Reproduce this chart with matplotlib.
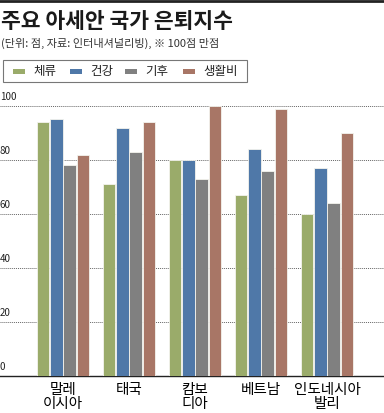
import matplotlib
matplotlib.use("Agg")
import matplotlib.pyplot as plt
from matplotlib.patches import Rectangle
from matplotlib.lines import Line2D
import numpy as np

plt.rcParams['font.family'] = ['Noto Sans CJK KR', 'DejaVu Sans']

countries = ['말레\n이시아', '태국', '캄보\n디아', '베트남', '인도네시아\n발리']
series = ['체류', '건강', '기후', '생활비']
stay = [94, 71, 80, 67, 60]
health = [95, 92, 80, 84, 77]
climate = [78, 83, 73, 76, 64]
living = [82, 94, 100, 99, 90]
colors = ['#9aab6a', '#4f78a8', '#808080', '#a87666']
yticks = [0, 20, 40, 60, 80, 100]

fig = plt.figure(figsize=(3.84, 4.13), dpi=100)
ax = fig.add_axes([0, 37 / 413, 1, 270 / 413])

x = np.arange(len(countries))
offsets = [-0.30, -0.10, 0.10, 0.30]
for vals, off, c in zip([stay, health, climate, living], offsets, colors):
    ax.bar(x + off, vals, width=0.19, color=c, edgecolor='#f4f4ee', linewidth=0.6, zorder=3)

ax.set_xlim(-63 / 66, 321 / 66)
ax.set_ylim(0, 100)

# dotted grid + labels sitting above each line
for t in yticks[1:]:
    ax.axhline(t, color='#666666', linestyle=(0, (1, 1)), linewidth=0.7, zorder=1)
for t in yticks:
    ax.annotate(str(t), xy=(0, t), xycoords=('axes fraction', 'data'),
                xytext=(0, 3), textcoords='offset points',
                ha='left', va='bottom', fontsize=7, color='#222222')

for s in ['top', 'right', 'left']:
    ax.spines[s].set_visible(False)
ax.spines['bottom'].set_color('#222222')
ax.spines['bottom'].set_linewidth(1.0)
ax.set_yticks([])
ax.set_xticks(x)
ax.set_xticklabels(countries, fontsize=10.5, linespacing=1.0)
ax.tick_params(axis='x', length=0, pad=5)

# top rule, title, subtitle
fig.add_artist(Line2D([0, 1], [1 - 1 / 413, 1 - 1 / 413], color='#222222', linewidth=2))
fig.text(1 / 384, 1 - 21 / 413, '주요 아세안 국가 은퇴지수', fontsize=15.5, fontweight='heavy',
         va='center', ha='left', color='#1a1a1a')
fig.text(1 / 384, 1 - 43 / 413, '(단위: 점, 자료: 인터내셔널리빙), ※ 100점 만점', fontsize=8,
         va='center', ha='left', color='#333333')

# legend box
fig.add_artist(Rectangle((3 / 384, 1 - 82 / 413), 244 / 384, 22 / 413, transform=fig.transFigure,
                         facecolor='white', edgecolor='#777777', linewidth=0.8))
leg_x = [13, 70, 125, 183]
for lx, name, c in zip(leg_x, series, colors):
    fig.add_artist(Rectangle((lx / 384, 1 - 74 / 413), 12 / 384, 5 / 413, transform=fig.transFigure,
                             facecolor=c, edgecolor='none'))
    fig.text((lx + 20) / 384, 1 - 71 / 413, name, fontsize=9, va='center', ha='left', color='#222222')

fig.savefig('out.png', dpi=100)
